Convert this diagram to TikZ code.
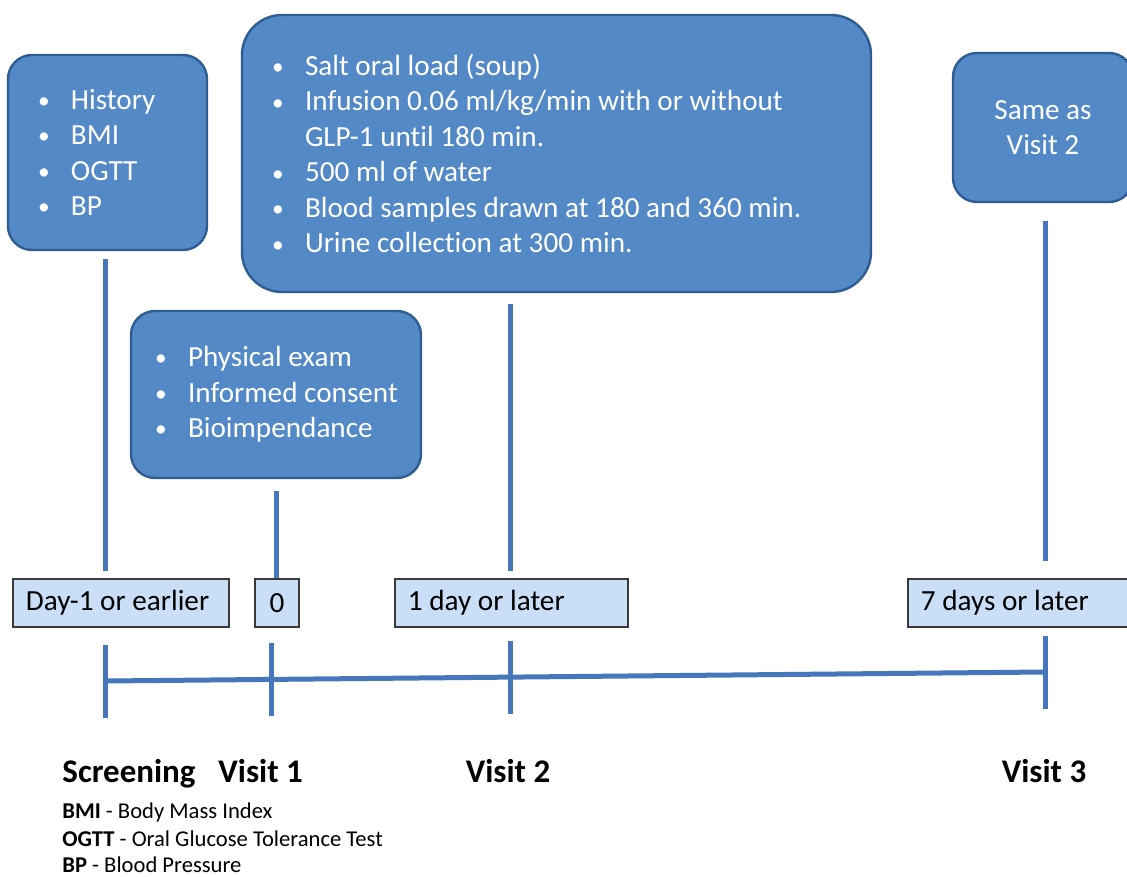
\documentclass[tikz,border=0pt]{standalone}
\usepackage{fontspec}
\setmainfont{Carlito}[Ligatures=NoCommon]
\usetikzlibrary{calc,positioning}
\definecolor{boxblue}{HTML}{5389C7}
\definecolor{boxrim}{HTML}{2F5D93}
\definecolor{lineblue}{HTML}{4677BC}
\definecolor{tagfill}{HTML}{CADFF7}
\definecolor{tagrim}{HTML}{3A3A3A}
\newcommand{\itm}[1]{\mbox{\makebox[16.5pt][l]{\raisebox{0.4pt}{\scalebox{0.8}{\textbullet}}}#1}}
\tikzset{
  every node/.append style={execute at begin node={\spaceskip=0pt\xspaceskip=0pt}},
  phase/.style={draw=boxrim, fill=boxblue, line width=1.2pt, rounded corners=12pt, text=white, font=\fontsize{14.6}{17.75}\selectfont, align=left, inner ysep=0pt},
  tag/.style={draw=tagrim, fill=tagfill, line width=0.9pt, font=\fontsize{14.6}{17}\selectfont, minimum height=24pt, inner xsep=6.5pt, anchor=west, align=left},
  link/.style={draw=lineblue, line width=2.5pt},
  visit/.style={font=\fontsize{16.5}{20}\bfseries\selectfont, inner sep=0pt},
  key/.style={font=\fontsize{11.3}{14}\selectfont, anchor=base west, inner sep=0pt},
}
\begin{document}
\begin{tikzpicture}[x=0.5pt, y=-0.5pt]
\fill[white] (0,0) rectangle (1127,876);
\useasboundingbox (0,0) rectangle (1127,876);

% what happens at each visit
\node[phase, minimum width=99.5pt, minimum height=97.5pt, text width=69.5pt, inner xsep=15pt] (scr) at (107.5,152.5)
  {\itm{History}\\ \itm{BMI}\\ \itm{OGTT}\\ \itm{BP}};
\node[phase, minimum width=145pt, minimum height=83.5pt, text width=121pt, inner xsep=12pt] (v1) at (276,394.5)
  {\itm{Physical exam}\\ \itm{Informed consent}\\ \itm{Bioimpendance}};
\node[phase, rounded corners=20pt, minimum width=314.5pt, minimum height=138.5pt, text width=284.5pt, inner xsep=15pt] (v2) at (556.5,153.5)
  {\itm{Salt oral load (soup)}\\ \itm{Infusion 0.06 ml/kg/min with or without}\\ \hspace*{16.5pt}GLP-1 until 180 min.\\ \itm{500 ml of water}\\ \itm{Blood samples drawn at 180 and 360 min.}\\ \itm{Urine collection at 300 min.}};
\node[phase, align=center, minimum width=90pt, minimum height=74.5pt] (v3) at (1043,127.5) {Same as\\Visit 2};

% days
\node[tag, minimum width=108pt, text width=95pt] (scrday) at (12,603) {Day-1 or earlier};
\node[tag, minimum width=22pt, align=center, inner xsep=0pt] (v1day) at (254,603) {0};
\node[tag, minimum width=116.5pt, text width=103.5pt] (v2day) at (394,603) {1 day or later};
\node[tag, minimum width=115pt, text width=102pt] (v3day) at (907,603) {7 days or later};

% time line
\coordinate (t0) at (105,681);
\coordinate (t1) at (271,679.4);
\coordinate (t2) at (510,677.1);
\coordinate (t3) at (1045,672);
\draw[link] (t0) -- (t3);
\foreach \t in {t0,t1,t2,t3}
  \draw[link] ($(\t)+(0,-36)$) -- ($(\t)+(0,37)$);

\draw[link] ($(scr.south -| t0)+(0,8)$) -- ($(scrday.north -| t0)+(0,-7)$);
\draw[link] ($(v1.south -| v1day.north)+(0,12)$) -- (v1day.north);
\draw[link] ($(v2.south -| t2)+(0,11)$) -- ($(v2day.north -| t2)+(0,-7)$);
\draw[link] ($(v3.south -| t3)+(0,18)$) -- ($(v3day.north -| t3)+(0,-17)$);

% names
\node[visit, anchor=base west] (scrlab) at (62,782) {Screening};
\node[visit, anchor=base west] (v1lab) at (218,782) {Visit 1};
\node[visit, anchor=base] (v2lab) at (508,782) {Visit 2};
\node[visit, anchor=base] (v3lab) at (1044,782) {Visit 3};

% key
\node[key] (kbmi) at (62,818) {\textbf{BMI} - Body Mass Index};
\node[key] (kogtt) at (62,846) {\textbf{OGTT} - Oral Glucose Tolerance Test};
\node[key] (kbp) at (62,872) {\textbf{BP} - Blood Pressure};
\end{tikzpicture}
\end{document}
